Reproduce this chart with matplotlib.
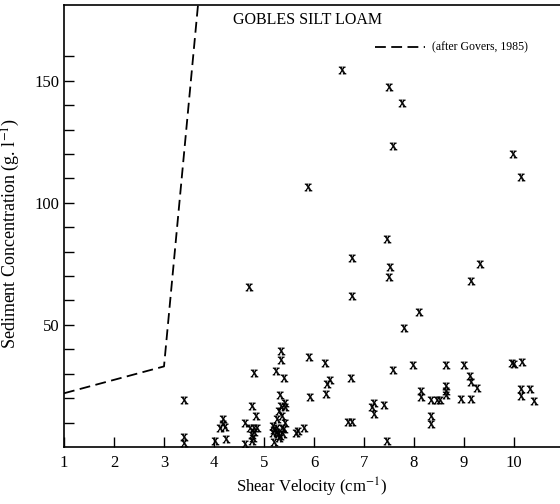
import matplotlib
matplotlib.use("Agg")
import matplotlib.pyplot as plt

plt.rcParams['font.family'] = ['Liberation Serif', 'DejaVu Serif']
plt.rcParams['mathtext.fontset'] = 'stix'

# Observed shear velocity (cm^-1) and sediment concentration (g/l)
shear_velocity = [
    6.55, 7.50, 7.76, 7.58, 9.98, 10.14, 5.88,
    6.76, 4.70, 6.76, 7.46, 7.52, 7.50, 9.32, 9.14, 8.10, 7.80,
    5.34, 5.34, 5.90, 6.22, 4.80, 5.24, 5.40, 6.32, 6.26, 5.32, 5.92, 6.24, 6.74,
    7.58, 7.98, 8.64, 9.00, 9.96, 10.00, 10.16,
    9.12, 9.14, 9.26, 8.64, 8.64, 8.64, 8.14, 8.14, 8.34, 8.46, 8.52, 8.94, 9.14,
    10.14, 10.14, 10.32, 10.40,
    7.20, 7.16, 7.20, 7.40, 8.34, 8.34, 6.68, 6.76, 7.46,
    3.40, 3.40, 3.40, 4.02, 4.24, 4.18, 4.18, 4.12, 4.22, 4.62, 4.62,
    4.76, 4.84, 4.72, 4.80, 4.86, 4.80, 4.76, 4.78, 4.76,
    5.42, 5.42, 5.34, 5.30, 5.36, 5.26, 5.42,
    5.18, 5.26, 5.36, 5.18, 5.26, 5.32, 5.38, 5.30, 5.40, 5.20, 5.28, 5.20,
    5.64, 5.68, 5.80,
]
sediment_conc = [
    154.5, 147.5, 141.0, 123.4, 120.0, 110.5, 106.6,
    77.5, 65.6, 61.9, 85.2, 73.8, 69.7, 75.0, 68.0, 55.3, 48.8,
    39.3, 35.7, 36.9, 34.6, 30.3, 31.1, 28.3, 27.5, 25.6, 21.3, 20.5, 21.5, 28.3,
    31.6, 33.6, 33.6, 33.6, 34.4, 34.0, 34.8,
    29.1, 26.6, 24.2, 24.8, 23.0, 21.3, 23.0, 20.5, 19.3, 19.3, 19.3, 19.7, 19.7,
    23.8, 20.9, 23.8, 18.9,
    18.0, 16.4, 13.5, 17.2, 12.7, 9.4, 10.2, 10.2, 2.5,
    19.3, 4.1, 1.6, 2.5, 3.3, 11.5, 9.4, 7.8, 8.2, 9.8, 1.4,
    16.8, 12.7, 7.8, 7.8, 7.8, 6.1, 4.9, 3.7, 2.4,
    18.0, 16.4, 16.8, 14.8, 12.7, 11.5, 9.8,
    8.6, 7.8, 7.8, 5.7, 6.1, 4.5, 5.3, 3.7, 7.4, 7.0, 5.3, 2.0,
    5.7, 6.6, 7.8,
]

# Govers (1985) relationship
govers_x = [1.0, 3.0, 3.68]
govers_y = [22.0, 33.0, 181.0]

x_ticks = [1, 2, 3, 4, 5, 6, 7, 8, 9, 10]
y_ticks = [10, 20, 30, 40, 50, 60, 70, 80, 90, 100, 110, 120, 130, 140, 150, 160]
y_labels = ['' if v % 50 else str(v) for v in y_ticks]

fig = plt.figure(figsize=(5.6, 5.04), dpi=100)
ax = fig.add_axes([64 / 560, 1 - 447 / 504, 1 - 64 / 560, (447 - 5) / 504])

ax.plot(govers_x, govers_y, color='black', lw=1.3, linestyle=(0, (6, 3)))
ax.scatter(shear_velocity, sediment_conc, marker=r'$\mathrm{x}$', s=28,
           color='black', linewidths=0.4)

ax.set_xlim(1, 10.92)
ax.set_ylim(0, 181)
ax.set_xticks(x_ticks)
ax.set_xticklabels([str(v) for v in x_ticks])
ax.set_yticks(y_ticks)
ax.set_yticklabels(y_labels)
ax.tick_params(direction='in', length=7, width=1.0, labelsize=12)
ax.tick_params(axis='y', pad=3)
ax.tick_params(axis='x', pad=6)
ax.spines['right'].set_visible(False)
for s in ['left', 'bottom', 'top']:
    ax.spines[s].set_linewidth(1.2)

ax.set_xlabel('Shear Velocity (cm$^{-1}$)', fontsize=12)
ax.set_ylabel('Sediment Concentration (g. l$^{-1}$)', fontsize=13)
ax.xaxis.set_label_coords(0.5, -0.066)
ax.yaxis.set_label_coords(-0.085, 0.484)

ax.text(0.492, 0.966, 'GOBLES SILT LOAM', transform=ax.transAxes,
        ha='center', va='center', fontsize=11.5)
ax.plot([0.627, 0.728], [0.905, 0.905], transform=ax.transAxes,
        color='black', lw=1.3, linestyle=(0, (6, 3)))
ax.text(0.742, 0.905, '(after Govers, 1985)', transform=ax.transAxes,
        ha='left', va='center', fontsize=8.5)

fig.savefig('out.png', dpi=100)
